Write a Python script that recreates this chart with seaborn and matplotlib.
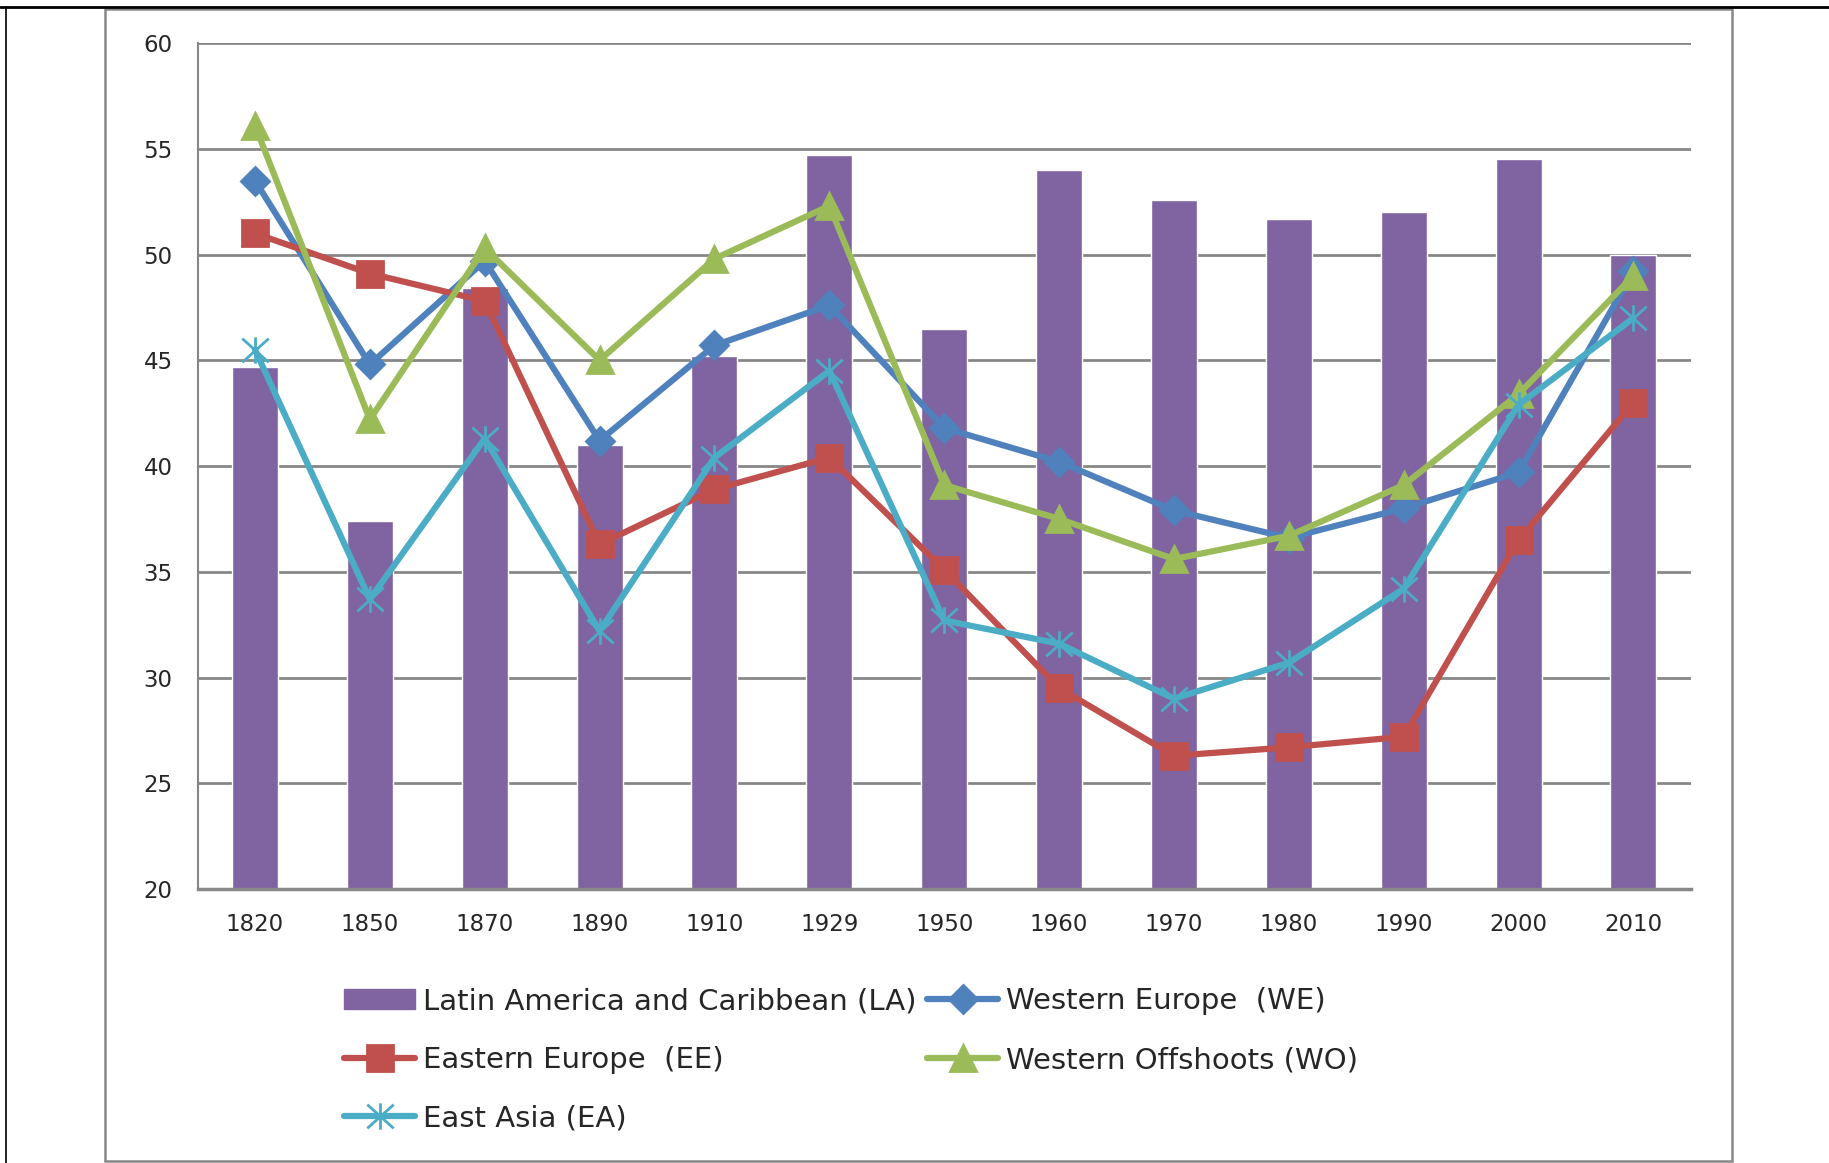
import numpy as np
import pandas as pd
import seaborn as sns
import matplotlib.pyplot as plt
from matplotlib.path import Path
from matplotlib.lines import Line2D
from matplotlib.patches import Patch, Rectangle

# Dados
anos = ["1820", "1850", "1870", "1890", "1910", "1929", "1950",
        "1960", "1970", "1980", "1990", "2000", "2010"]
la = [44.7, 37.4, 48.4, 41.0, 45.2, 54.7, 46.5, 54.0, 52.6, 51.7, 52.0, 54.5, 50.0]
we = [53.5, 44.8, 49.7, 41.2, 45.7, 47.6, 41.8, 40.2, 37.9, 36.6, 38.0, 39.7, 49.2]
ee = [51.0, 49.1, 47.8, 36.3, 38.9, 40.4, 35.1, 29.5, 26.3, 26.7, 27.2, 36.5, 43.0]
wo = [56.1, 42.2, 50.3, 45.0, 49.8, 52.3, 39.1, 37.5, 35.6, 36.7, 39.1, 43.4, 49.0]
ea = [45.5, 33.7, 41.3, 32.2, 40.4, 44.5, 32.7, 31.6, 29.0, 30.7, 34.2, 42.9, 47.0]

nomes = ["Latin America and Caribbean (LA)", "Western Europe  (WE)",
         "Eastern Europe  (EE)", "Western Offshoots (WO)", "East Asia (EA)"]

# Cores padrão do Excel
roxo, azul, vermelho, verde, ciano = "#8064A2", "#4F81BD", "#C0504D", "#9BBB59", "#4BACC6"
cinza = "#878787"

# Marcador estrela do Excel (X com traço vertical)
estrela = Path([(-1, -0.9), (1, 0.9), (-1, 0.9), (1, -0.9), (0, -1), (0, 1)],
               [Path.MOVETO, Path.LINETO, Path.MOVETO, Path.LINETO, Path.MOVETO, Path.LINETO])

sns.set_style("white")
plt.rcParams["font.family"] = ["DejaVu Sans"]

fig = plt.figure(figsize=(18.29, 11.63), dpi=100)
ax = fig.add_axes([0.108, 0.2356, 0.8165, 0.7274])

df = pd.DataFrame({"Ano": anos, "LA": la})
sns.barplot(data=df, x="Ano", y="LA", color=roxo, saturation=1, width=0.4, ax=ax, zorder=2)

pos = np.arange(len(anos))
series = [
    (we, azul, "D", 14, 2),
    (ee, vermelho, "s", 19, 2),
    (wo, verde, "^", 19, 2),
    (ea, ciano, estrela, 19, 2),
]
handles = [Patch(facecolor=roxo, edgecolor=roxo)]
for vals, cor, mk, ms, mew in series:
    sns.lineplot(x=pos, y=vals, ax=ax, color=cor, linewidth=4.5, marker=mk,
                 markersize=ms, markeredgecolor=cor, markeredgewidth=mew, zorder=3)
    handles.append(Line2D([], [], color=cor, linewidth=4.5, marker=mk,
                          markersize=ms, markeredgecolor=cor, markeredgewidth=mew))

ax.set_xlim(-0.5, len(anos) - 0.5)
ax.set_ylim(20, 60)
ax.set_yticks(range(20, 61, 5))
ax.set_xlabel("")
ax.set_ylabel("")

ax.grid(axis="y", color=cinza, linewidth=2, zorder=0)
ax.grid(axis="x", visible=False)
ax.set_axisbelow(True)
for lado in ["top", "right"]:
    ax.spines[lado].set_visible(False)
ax.spines["left"].set_color(cinza)
ax.spines["left"].set_linewidth(1.5)
ax.spines["bottom"].set_color(cinza)
ax.spines["bottom"].set_linewidth(2.5)

ax.set_xticks(np.arange(-0.5, len(anos), 1), minor=True)
ax.tick_params(axis="x", which="major", length=0, pad=17, labelsize=16.5)
ax.tick_params(axis="x", which="minor", length=7, width=1.5, color=cinza, direction="out")
ax.tick_params(axis="y", which="major", length=6, width=2, color=cinza, pad=12, labelsize=16.5)

# Legenda (ordem por colunas para ficar igual ao original)
ordem = [0, 2, 4, 1, 3]
fig.legend([handles[i] for i in ordem], [nomes[i] for i in ordem],
           loc="upper left", bbox_to_anchor=(0.188, 0.151), ncol=2, frameon=False,
           fontsize=21, handlelength=2.45, handletextpad=0.25, columnspacing=0.37,
           labelspacing=1.05, borderpad=0, borderaxespad=0)

# Moldura do gráfico e bordas da página
fig.patches.append(Rectangle((0.0574, 0.002), 0.8896, 0.990, transform=fig.transFigure,
                             fill=False, edgecolor=cinza, linewidth=1.8))
fig.add_artist(Line2D([0, 1], [0.994, 0.994], transform=fig.transFigure, color="black", linewidth=2))
fig.add_artist(Line2D([0.0033, 0.0033], [0, 0.994], transform=fig.transFigure, color="black", linewidth=1.2))

fig.savefig("out.png", dpi=100)
